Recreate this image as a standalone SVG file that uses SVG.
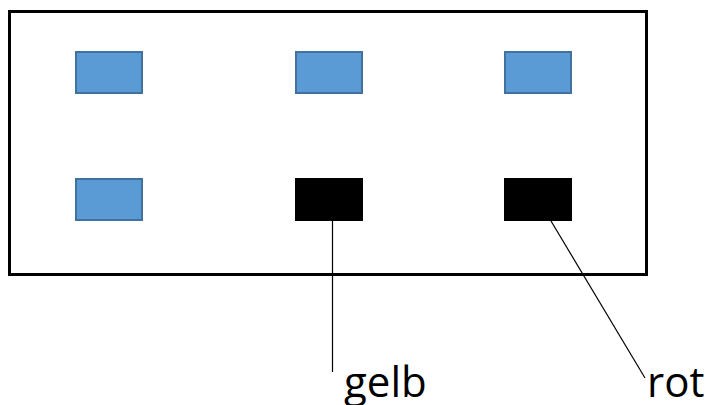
<svg xmlns="http://www.w3.org/2000/svg" width="708" height="405" viewBox="0 0 708 405">
<style>
.blue{fill:#5B9BD5;stroke:#41719C;stroke-width:2}
.black{fill:#000;stroke:none}
.lbl{font-family:"Open Sans","Noto Sans",sans-serif;font-size:42px;fill:#000}
.conn{stroke:#000;stroke-width:1.2;fill:none}
</style>
<rect x="0" y="0" width="708" height="405" fill="#fff"/>
<g id="frame"><rect x="9.5" y="11.5" width="637" height="263" fill="none" stroke="#000" stroke-width="3"/></g>
<g id="n1"><rect class="blue" x="76" y="52" width="66" height="41"/></g>
<g id="n2"><rect class="blue" x="296" y="52" width="66" height="41"/></g>
<g id="n3"><rect class="blue" x="505" y="52" width="66" height="41"/></g>
<g id="n4"><rect class="blue" x="76" y="179" width="66" height="41"/></g>
<g id="n5"><rect class="black" x="295" y="178" width="68" height="43"/></g>
<g id="n6"><rect class="black" x="504" y="178" width="68" height="43"/></g>
<g id="connectors">
<line class="conn" x1="332.5" y1="221" x2="332.5" y2="372"/>
<line class="conn" x1="551" y1="221" x2="645" y2="378"/>
</g>
<g id="l1"><text class="lbl" x="344" y="397">gelb</text></g>
<g id="l2"><text class="lbl" x="647" y="397">rot</text></g>
</svg>
